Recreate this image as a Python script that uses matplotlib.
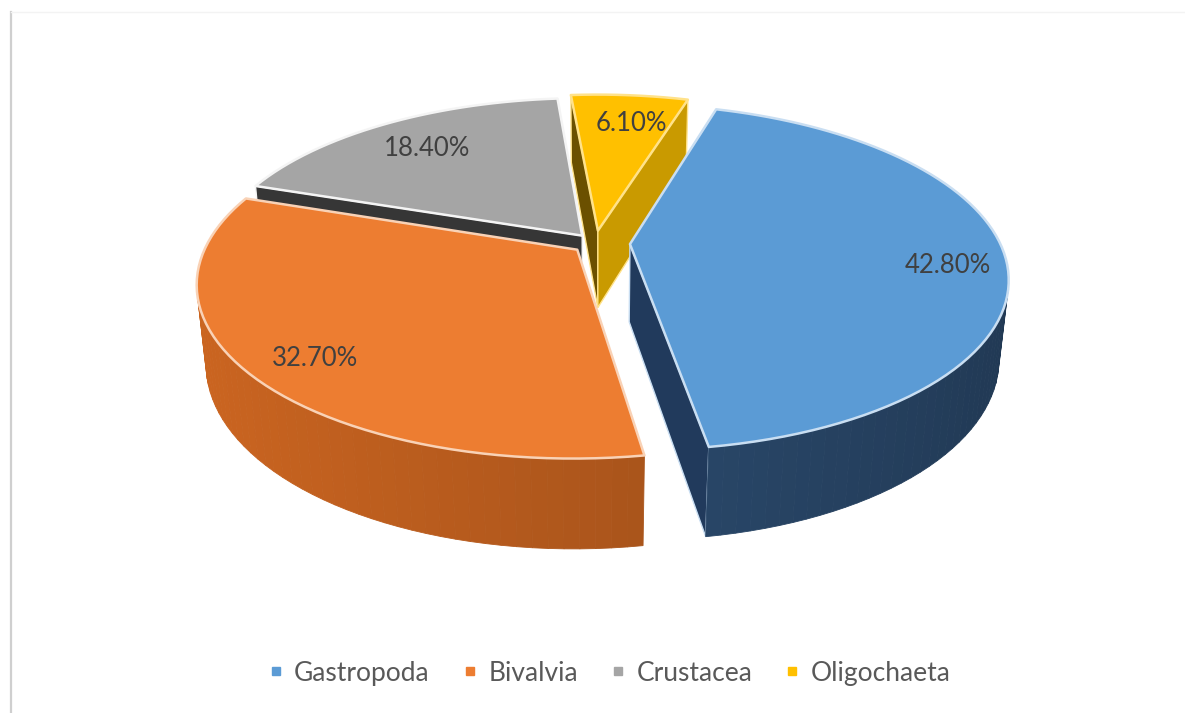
import numpy as np
import matplotlib.pyplot as plt
from matplotlib.patches import Polygon
from matplotlib.lines import Line2D
from matplotlib.colors import to_rgb

# data
labels = ['Gastropoda', 'Bivalvia', 'Crustacea', 'Oligochaeta']
shares = [42.8, 32.7, 18.4, 6.1]
pct_text = ['42.80%', '32.70%', '18.40%', '6.10%']

# style
top_colors = ['#5b9bd5', '#ed7d31', '#a5a5a5', '#ffc000']
wall_colors = ['#284566', '#a9541b', '#505050', '#b38600']
cut_hi_colors = ['#27446b', '#a04e18', '#363636', '#6b5000']
cut_lo_colors = ['#213a5c', '#a04e18', '#444444', '#c99a00']
rim_colors = ['#c9def2', '#f9d2b6', '#f4f4f4', '#ffe28a']
explode = [35, 23, 21, 28]
label_r = [0.84, 0.83, 0.75, 0.75]
label_dx = [4, 4, -4, 9]
label_dy = [11, 8, 0, -1]

# 3d pie geometry (pixels)
cx, cy = 595, 243
R = 370
depth = 89
tilt = np.radians(26.7)
sa, ca = np.sin(tilt), np.cos(tilt)
focal = 1737.0
start = 73.0
cam = np.array([0.0, -focal * ca, focal * sa])


def proj(x, y, z):
    d = y * ca - z * sa
    v = y * sa + z * ca
    k = focal / (focal + d)
    return cx + x * k, cy - v * k, d


def shade(col, f):
    r, g, b = to_rgb(col)
    return (min(r * f, 1), min(g * f, 1), min(b * f, 1))


fig = plt.figure(figsize=(11.85, 7.13), dpi=100)
ax = fig.add_axes([0, 0, 1, 1])
ax.set_xlim(0, 1185)
ax.set_ylim(713, 0)
ax.axis('off')

# frame remains
ax.plot([11, 11], [12, 713], color='#cfcfcf', lw=1.6)
ax.plot([11, 1185], [12, 12], color='#f3f3f3', lw=1.0)

faces = []
tops = []
text_pos = []
acc = 0.0
for i, s in enumerate(shares):
    hi = start - acc * 3.6
    lo = hi - s * 3.6
    acc += s
    mid = np.radians((hi + lo) / 2)
    ox, oy = explode[i] * np.cos(mid), explode[i] * np.sin(mid)
    n = max(int(abs(hi - lo) / 2), 4)
    th = np.radians(np.linspace(lo, hi, n + 1))

    # top face
    pts = [proj(ox, oy, 0)[:2]]
    for t in th:
        pts.append(proj(ox + R * np.cos(t), oy + R * np.sin(t), 0)[:2])
    tops.append((pts, top_colors[i], rim_colors[i]))

    # outer wall
    for j in range(n):
        t0, t1 = th[j], th[j + 1]
        tm = (t0 + t1) / 2
        p = np.array([ox + R * np.cos(tm), oy + R * np.sin(tm), -depth / 2])
        nrm = np.array([np.cos(tm), np.sin(tm), 0])
        if np.dot(cam - p, nrm) <= 0:
            continue
        q = [proj(ox + R * np.cos(t0), oy + R * np.sin(t0), 0),
             proj(ox + R * np.cos(t1), oy + R * np.sin(t1), 0),
             proj(ox + R * np.cos(t1), oy + R * np.sin(t1), -depth),
             proj(ox + R * np.cos(t0), oy + R * np.sin(t0), -depth)]
        f = 1 + 0.2 * np.cos(tm - np.radians(190))
        c = shade(wall_colors[i], f)
        faces.append((np.mean([a[2] for a in q]), [a[:2] for a in q], c, c, 0.6))

    # cut faces
    for ang, nang, col in [(hi, hi + 90, cut_hi_colors[i]), (lo, lo - 90, cut_lo_colors[i])]:
        t = np.radians(ang)
        tn = np.radians(nang)
        p = np.array([ox + R / 2 * np.cos(t), oy + R / 2 * np.sin(t), -depth / 2])
        nrm = np.array([np.cos(tn), np.sin(tn), 0])
        if np.dot(cam - p, nrm) <= 0:
            continue
        q = [proj(ox, oy, 0),
             proj(ox + R * np.cos(t), oy + R * np.sin(t), 0),
             proj(ox + R * np.cos(t), oy + R * np.sin(t), -depth),
             proj(ox, oy, -depth)]
        faces.append((np.mean([a[2] for a in q]), [a[:2] for a in q], col, rim_colors[i], 1.0))

    lr = explode[i] + label_r[i] * R
    x, y = proj(lr * np.cos(mid), lr * np.sin(mid), 0)[:2]
    text_pos.append((x + label_dx[i], y + label_dy[i]))

faces.sort(key=lambda f: -f[0])
z = 2
for d, pts, fc, ec, lw in faces:
    ax.add_patch(Polygon(pts, closed=True, facecolor=fc, edgecolor=ec, lw=lw, zorder=z))
    z += 1
for pts, fc, ec in tops:
    ax.add_patch(Polygon(pts, closed=True, facecolor=fc, edgecolor=ec, lw=1.8,
                         joinstyle='round', zorder=z))
    z += 1

for (x, y), t in zip(text_pos, pct_text):
    ax.text(x, y, t, ha='center', va='center', fontsize=18.5, color='#404040',
            family='Lato', zorder=z + 1)

handles = [Line2D([], [], marker='s', ls='', markersize=6, color=c) for c in top_colors]
leg = fig.legend(handles, labels, loc='center', bbox_to_anchor=(0.513, 0.056), ncol=4,
                 frameon=False, handletextpad=0.3, columnspacing=1.12,
                 handlelength=0.8, prop={'family': 'Lato', 'size': 19})
for t in leg.get_texts():
    t.set_color('#595959')

fig.savefig('out.png', dpi=100, facecolor='white')
